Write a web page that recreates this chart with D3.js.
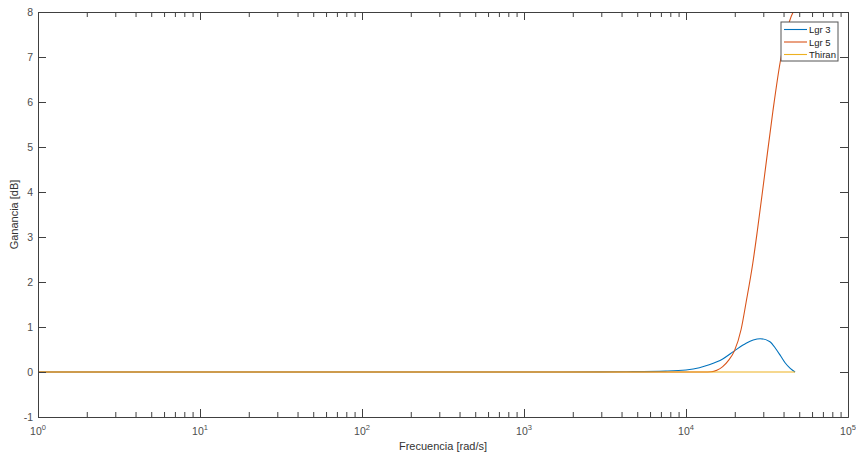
<!DOCTYPE html>
<html>
<head>
<meta charset="utf-8">
<script src="https://cdn.jsdelivr.net/npm/d3@7"></script>
<style>
  body { margin: 0; background: #fff; }
  svg { display: block; font-family: "Liberation Sans", Arial, sans-serif; }
</style>
</head>
<body>
<svg width="856" height="456"></svg>
<script>
// frequencies [rad/s] and gains [dB]
var lgr3Freq = [1, 1000, 3000, 4300, 7500, 10000, 12100, 13900, 16850, 19900, 23500, 26000, 28700, 32800, 36100, 38500, 41000, 44000, 47124];
var lgr3Gain = [0, 0, 0.002, 0.006, 0.02, 0.045, 0.095, 0.16, 0.29, 0.47, 0.64, 0.71, 0.74, 0.68, 0.5, 0.35, 0.2, 0.08, 0];

var lgr5Freq = [1, 10000, 13000, 14300, 15500, 16850, 18300, 19900, 21900, 23500, 25800, 27600, 30500, 34400, 38200, 41000, 43600, 45500, 47124];
var lgr5Gain = [0, 0, 0, 0.005, 0.04, 0.12, 0.26, 0.47, 0.95, 1.55, 2.4, 3.15, 4.35, 5.8, 6.9, 7.45, 7.8, 7.97, 8.05];

var thiranFreq = [1, 47124];
var thiranGain = [0, 0];

var xMajor = [1, 10, 100, 1000, 10000, 100000];
var yTicks = [-1, 0, 1, 2, 3, 4, 5, 6, 7, 8];

var seriesNames = ["Lgr 3", "Lgr 5", "Thiran"];
var colors = ["#0072BD", "#D95319", "#EDB120"];

var svg = d3.select("svg");
var plotLeft = 38, plotRight = 848, plotTop = 12, plotBottom = 417;

var x = d3.scaleLog().domain([1, 1e5]).range([plotLeft, plotRight]);
var y = d3.scaleLinear().domain([-1, 8]).range([plotBottom, plotTop]);

var xMinor = [];
for (var e = 0; e < 5; e++) {
    for (var m = 2; m <= 9; m++) xMinor.push(m * Math.pow(10, e));
}

var axisColor = "#404040";

// clip area
svg.append("clipPath").attr("id", "clip")
    .append("rect").attr("x", plotLeft).attr("y", plotTop)
    .attr("width", plotRight - plotLeft).attr("height", plotBottom - plotTop);

// lines
var series = [
    {freq: lgr3Freq, gain: lgr3Gain},
    {freq: lgr5Freq, gain: lgr5Gain},
    {freq: thiranFreq, gain: thiranGain}
];
var line = d3.line()
    .x(function(d) { return x(d[0]); })
    .y(function(d) { return y(d[1]); })
    .curve(d3.curveMonotoneX);

var plot = svg.append("g").attr("clip-path", "url(#clip)");
series.forEach(function(s, i) {
    var pts = s.freq.map(function(f, j) { return [f, s.gain[j]]; });
    plot.append("path")
        .attr("d", line(pts))
        .attr("fill", "none")
        .attr("stroke", colors[i])
        .attr("stroke-width", 1.1);
});

function styleAxis(g) {
    g.selectAll("path").attr("stroke", axisColor);
    g.selectAll("line").attr("stroke", axisColor);
    g.selectAll("text").remove();
}

// bottom & top axes
svg.append("g").attr("transform", "translate(0," + plotBottom + ")")
    .call(d3.axisBottom(x).tickValues(xMajor).tickSizeInner(-8).tickSizeOuter(0).tickFormat(""))
    .call(styleAxis);
svg.append("g").attr("transform", "translate(0," + plotBottom + ")")
    .call(d3.axisBottom(x).tickValues(xMinor).tickSizeInner(-5).tickSizeOuter(0).tickFormat(""))
    .call(styleAxis);
svg.append("g").attr("transform", "translate(0," + plotTop + ")")
    .call(d3.axisTop(x).tickValues(xMajor).tickSizeInner(-8).tickSizeOuter(0).tickFormat(""))
    .call(styleAxis);
svg.append("g").attr("transform", "translate(0," + plotTop + ")")
    .call(d3.axisTop(x).tickValues(xMinor).tickSizeInner(-5).tickSizeOuter(0).tickFormat(""))
    .call(styleAxis);

// left & right axes
svg.append("g").attr("transform", "translate(" + plotLeft + ",0)")
    .call(d3.axisLeft(y).tickValues(yTicks).tickSizeInner(-8).tickSizeOuter(0).tickFormat(""))
    .call(styleAxis);
svg.append("g").attr("transform", "translate(" + plotRight + ",0)")
    .call(d3.axisRight(y).tickValues(yTicks).tickSizeInner(-8).tickSizeOuter(0).tickFormat(""))
    .call(styleAxis);

// y tick labels
svg.selectAll(".ylab").data(yTicks).enter().append("text")
    .attr("x", 33)
    .attr("y", function(d) { return y(d) + 4; })
    .attr("text-anchor", "end")
    .attr("font-size", 10.5)
    .attr("fill", "#4d4d4d")
    .text(function(d) { return d; });

// x tick labels 10^n
var xl = svg.selectAll(".xlab").data(xMajor).enter().append("text")
    .attr("x", function(d) { return x(d); })
    .attr("y", 435)
    .attr("text-anchor", "middle")
    .attr("font-size", 10.5)
    .attr("fill", "#4d4d4d");
xl.append("tspan").text("10");
xl.append("tspan")
    .attr("dy", -5)
    .attr("font-size", 7.5)
    .text(function(d) { return Math.round(Math.log10(d)); });

// axis titles
svg.append("text")
    .attr("x", (plotLeft + plotRight) / 2)
    .attr("y", 450)
    .attr("text-anchor", "middle")
    .attr("font-size", 11)
    .attr("fill", "#333")
    .text("Frecuencia [rad/s]");
svg.append("text")
    .attr("transform", "translate(18," + ((plotTop + plotBottom) / 2) + ") rotate(-90)")
    .attr("text-anchor", "middle")
    .attr("font-size", 11)
    .attr("fill", "#333")
    .text("Ganancia [dB]");

// legend
var legend = svg.append("g");
legend.append("rect")
    .attr("x", 781).attr("y", 22).attr("width", 57).attr("height", 39)
    .attr("fill", "#fff").attr("stroke", "#555").attr("stroke-width", 1);
seriesNames.forEach(function(name, i) {
    var ly = 29.5 + i * 12.5;
    legend.append("line")
        .attr("x1", 784).attr("x2", 807).attr("y1", ly).attr("y2", ly)
        .attr("stroke", colors[i]).attr("stroke-width", 1.1);
    legend.append("text")
        .attr("x", 809).attr("y", ly + 3.5)
        .attr("font-size", 9.5)
        .attr("fill", "#222")
        .text(name);
});
</script>
</body>
</html>
